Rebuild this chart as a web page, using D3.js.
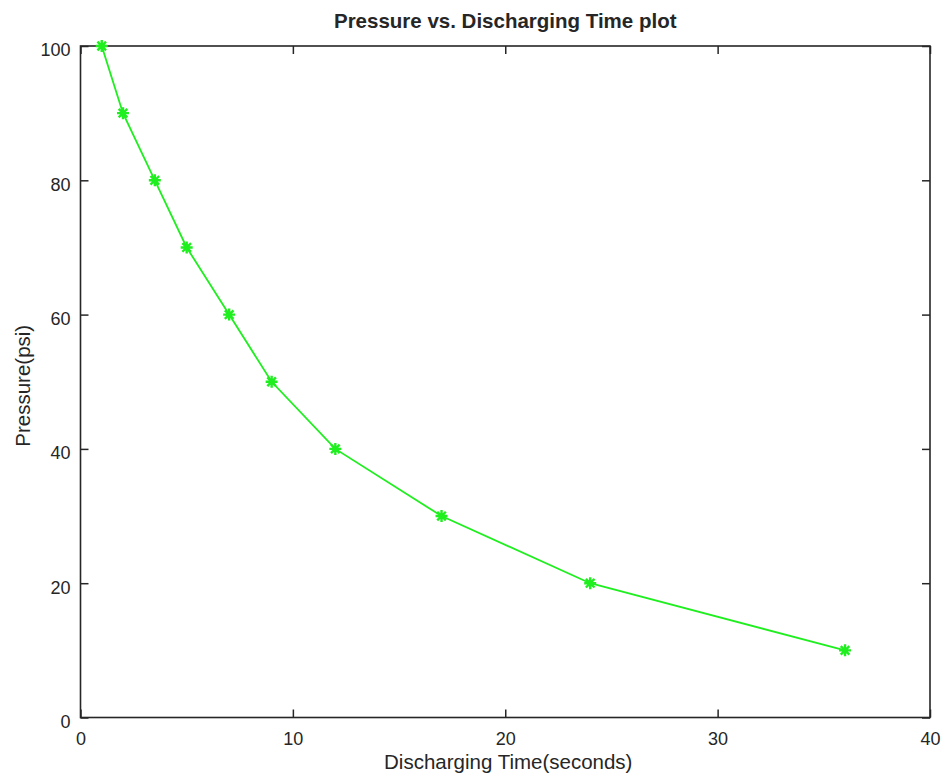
<!DOCTYPE html>
<html>
<head>
<meta charset="utf-8">
<script src="https://cdn.jsdelivr.net/npm/d3@7"></script>
<style>
  html, body { margin: 0; padding: 0; background: #fff; }
  svg { display: block; }
  text { font-family: "Liberation Sans", Arial, Helvetica, sans-serif; fill: #262626; }
</style>
</head>
<body>
<svg id="chart" width="944" height="774"></svg>
<script>
// Discharging time (seconds) at each pressure level (psi)
const timeSeconds = [1, 2, 3.5, 5, 7, 9, 12, 17, 24, 36];
const pressurePsi = [100, 90, 80, 70, 60, 50, 40, 30, 20, 10];
const xTicks = [0, 10, 20, 30, 40];
const yTicks = [0, 20, 40, 60, 80, 100];

const titleText = "Pressure vs. Discharging Time plot";
const xLabelText = "Discharging Time(seconds)";
const yLabelText = "Pressure(psi)";

const plot = { left: 80.5, right: 930, top: 46, bottom: 717.5 };

const svg = d3.select("#chart");

const x = d3.scaleLinear().domain([0, 40]).range([plot.left, plot.right]);
const y = d3.scaleLinear().domain([0, 100]).range([plot.bottom, plot.top]);

const axisColor = "#262626";
const tickLen = 8;

// Axes with inward ticks on all four sides
const gBottom = svg.append("g").attr("transform", `translate(0,${plot.bottom})`)
  .call(d3.axisBottom(x).tickValues(xTicks).tickSizeInner(-tickLen).tickSizeOuter(0).tickPadding(15));
const gTop = svg.append("g").attr("transform", `translate(0,${plot.top})`)
  .call(d3.axisTop(x).tickValues(xTicks).tickSizeInner(-tickLen).tickSizeOuter(0).tickFormat(""));
const gLeft = svg.append("g").attr("transform", `translate(${plot.left},0)`)
  .call(d3.axisLeft(y).tickValues(yTicks).tickSizeInner(-tickLen).tickSizeOuter(0).tickPadding(10));
const gRight = svg.append("g").attr("transform", `translate(${plot.right},0)`)
  .call(d3.axisRight(y).tickValues(yTicks).tickSizeInner(-tickLen).tickSizeOuter(0).tickFormat(""));

[gBottom, gTop, gLeft, gRight].forEach(g => {
  g.select(".domain").remove();
  g.selectAll(".tick line").attr("stroke", axisColor).attr("stroke-width", 1.5);
  g.selectAll(".tick text")
    .attr("font-family", "Liberation Sans, Arial, sans-serif")
    .attr("font-size", 18)
    .attr("fill", axisColor);
});
gLeft.selectAll(".tick text").attr("dy", "0.55em");

// Frame
svg.append("rect")
  .attr("x", plot.left).attr("y", plot.top)
  .attr("width", plot.right - plot.left).attr("height", plot.bottom - plot.top)
  .attr("fill", "none").attr("stroke", axisColor).attr("stroke-width", 1.6);

// Data line
const lineColor = "#1fee1f";
const pts = timeSeconds.map((t, i) => ({ t, p: pressurePsi[i] }));
svg.append("path")
  .datum(pts)
  .attr("fill", "none")
  .attr("stroke", lineColor)
  .attr("stroke-width", 1.8)
  .attr("d", d3.line().x(d => x(d.t)).y(d => y(d.p)));

// Asterisk markers
const r = 6;
const markers = svg.append("g").selectAll("g").data(pts).join("g")
  .attr("transform", d => `translate(${x(d.t)},${y(d.p)})`);
const star = `M${-r},0L${r},0M0,${-r}L0,${r}` +
  `M${-r*0.72},${-r*0.72}L${r*0.72},${r*0.72}M${-r*0.72},${r*0.72}L${r*0.72},${-r*0.72}`;
markers.append("path")
  .attr("d", star)
  .attr("stroke", lineColor)
  .attr("stroke-width", 2.4)
  .attr("fill", "none");

// Title and axis labels
svg.append("text")
  .attr("x", (plot.left + plot.right) / 2).attr("y", 28)
  .attr("text-anchor", "middle")
  .attr("font-size", 20.5).attr("font-weight", "bold")
  .attr("fill", "#000")
  .text(titleText);

svg.append("text")
  .attr("x", (plot.left + plot.right) / 2 + 3).attr("y", 769)
  .attr("text-anchor", "middle")
  .attr("font-size", 20.5)
  .text(xLabelText);

svg.append("text")
  .attr("transform", `translate(30,${(plot.top + plot.bottom) / 2 + 4}) rotate(-90)`)
  .attr("text-anchor", "middle")
  .attr("font-size", 20.5)
  .text(yLabelText);
</script>
</body>
</html>
